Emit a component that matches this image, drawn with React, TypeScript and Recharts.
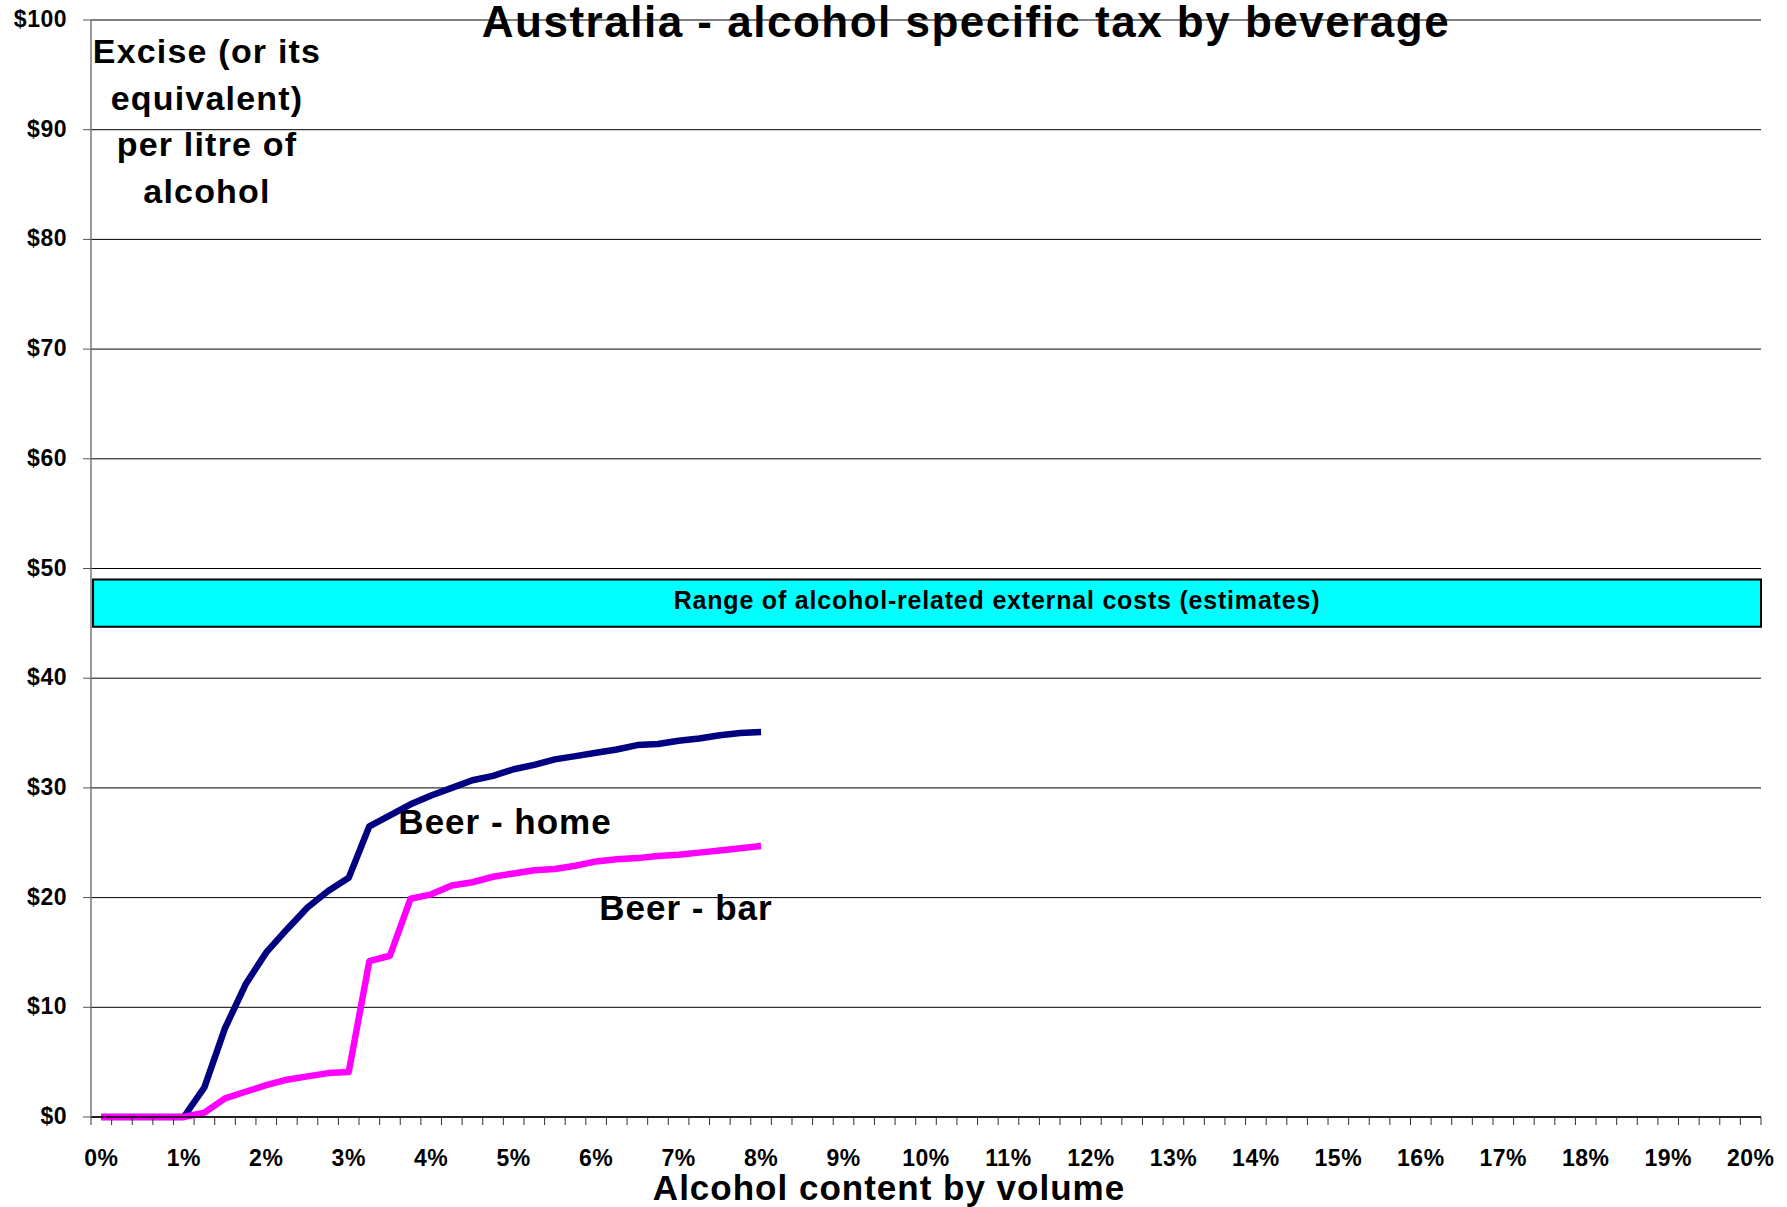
import React from "react"
import {
  LineChart,
  Line,
  XAxis,
  YAxis,
  CartesianGrid,
  ReferenceArea,
} from "recharts"

// Alcohol content by volume (%), read every 0.25%
const abv = [
  0, 0.25, 0.5, 0.75, 1, 1.25, 1.5, 1.75, 2, 2.25, 2.5, 2.75, 3, 3.25, 3.5, 3.75,
  4, 4.25, 4.5, 4.75, 5, 5.25, 5.5, 5.75, 6, 6.25, 6.5, 6.75, 7, 7.25, 7.5, 7.75, 8,
]

// Excise per litre of alcohol ($)
const beerHome = [
  0, 0, 0, 0, 0, 2.7, 8.1, 12.1, 15.0, 17.1, 19.1, 20.6, 21.8, 26.5, 27.5, 28.5,
  29.3, 30.0, 30.7, 31.1, 31.7, 32.1, 32.6, 32.9, 33.2, 33.5, 33.9, 34.0, 34.3, 34.5, 34.8, 35.0, 35.1,
]
const beerBar = [
  0, 0, 0, 0, 0, 0.4, 1.7, 2.3, 2.9, 3.4, 3.7, 4.0, 4.1, 14.2, 14.7, 19.9,
  20.3, 21.1, 21.4, 21.9, 22.2, 22.5, 22.6, 22.9, 23.3, 23.5, 23.6, 23.8, 23.9, 24.1, 24.3, 24.5, 24.7,
]

// range of external costs ($ per litre)
const externalCostLow = 44.7
const externalCostHigh = 49

const xLabelTicks = [0, 1, 2, 3, 4, 5, 6, 7, 8, 9, 10, 11, 12, 13, 14, 15, 16, 17, 18, 19, 20]
const yTicks = [0, 10, 20, 30, 40, 50, 60, 70, 80, 90, 100]

const yLabelLines = ["Excise (or its", "equivalent)", "per litre of", "alcohol"]

const chartData = abv.map((a, i) => ({ abv: a, home: beerHome[i], bar: beerBar[i] }))

// minor tick marks sit between the 0.25% categories (Excel style)
const minorTicks = Array.from({ length: 82 }, (_, i) => i * 0.25 - 0.125)
const allXTicks = [...minorTicks, ...xLabelTicks].sort((a, b) => a - b)

const FONT = "'Liberation Sans', Arial, Helvetica, sans-serif"

const XTick = (props: any) => {
  const { x, y, payload } = props
  const v = payload.value
  const axisY = y - 8
  if (Number.isInteger(v)) {
    return (
      <text x={x} y={axisY + 49} textAnchor="middle" fontFamily={FONT} fontWeight="bold"
        fontSize={23} letterSpacing={0.5} fill="#000">
        {v}%
      </text>
    )
  }
  return <line x1={x} x2={x} y1={axisY} y2={axisY + 8} stroke="#333" strokeWidth={1} />
}

const YTick = (props: any) => {
  const { x, y, payload } = props
  return (
    <text x={x} y={y + 7} textAnchor="end" fontFamily={FONT} fontWeight="bold"
      fontSize={23} letterSpacing={0.5} fill="#000">
      ${payload.value}
    </text>
  )
}

// label inside the cyan band, sits a bit right of the band centre like the original
const BandLabel = (props: any) => {
  const vb = props.viewBox || {}
  const cy = (vb.y ?? 580) + (vb.height ?? 47) / 2
  return (
    <text x={997} y={cy + 6} textAnchor="middle" fontFamily={FONT} fontWeight="bold"
      fontSize={25} letterSpacing={0.8} fill="#000">
      Range of alcohol-related external costs (estimates)
    </text>
  )
}

export default function App() {
  return (
    <div style={{ position: "absolute", left: 0, top: 0, width: 1787, height: 1207, background: "#fff" }}>
      <LineChart width={1787} height={1207} data={chartData}
        margin={{ top: 20, right: 26, left: 0, bottom: 0 }}>
        <CartesianGrid vertical={false} stroke="#000" strokeWidth={1} />

        <XAxis
          dataKey="abv"
          type="number"
          domain={[-0.125, 20.125]}
          ticks={allXTicks}
          interval={0}
          height={90}
          tickSize={8}
          tickMargin={0}
          tickLine={false}
          axisLine={{ stroke: "#000", strokeWidth: 1.5 }}
          tick={<XTick />}
        />
        <YAxis
          type="number"
          domain={[0, 100]}
          ticks={yTicks}
          interval={0}
          width={91}
          tickSize={8}
          tickMargin={16}
          tickLine={{ stroke: "#555" }}
          axisLine={{ stroke: "#777", strokeWidth: 1.5 }}
          tick={<YTick />}
        />

        {/* external costs band */}
        <ReferenceArea
          x1={-0.1}
          x2={20.125}
          y1={externalCostLow}
          y2={externalCostHigh}
          fill="#00FFFF"
          fillOpacity={1}
          stroke="#000"
          strokeWidth={2}
          label={<BandLabel />}
        />

        <Line type="linear" dataKey="home" stroke="#000080" strokeWidth={6.5} dot={false}
          strokeLinejoin="round" isAnimationActive={false} />
        <Line type="linear" dataKey="bar" stroke="#FF00FF" strokeWidth={6.5} dot={false}
          strokeLinejoin="round" isAnimationActive={false} />

        {/* title and annotations */}
        <text x={966} y={37} textAnchor="middle" fontFamily={FONT} fontWeight="bold"
          fontSize={44} letterSpacing={1.5} fill="#000">
          Australia - alcohol specific tax by beverage
        </text>
        {yLabelLines.map((line, i) => (
          <text key={line} x={207} y={63 + i * 46.5} textAnchor="middle" fontFamily={FONT}
            fontWeight="bold" fontSize={34} letterSpacing={1.2} fill="#000">
            {line}
          </text>
        ))}
        <text x={505} y={834} textAnchor="middle" fontFamily={FONT} fontWeight="bold"
          fontSize={35} letterSpacing={1} fill="#000">
          Beer - home
        </text>
        <text x={686} y={920} textAnchor="middle" fontFamily={FONT} fontWeight="bold"
          fontSize={35} letterSpacing={1} fill="#000">
          Beer - bar
        </text>
        <text x={889} y={1200} textAnchor="middle" fontFamily={FONT} fontWeight="bold"
          fontSize={35} letterSpacing={1} fill="#000">
          Alcohol content by volume
        </text>
      </LineChart>
    </div>
  )
}
